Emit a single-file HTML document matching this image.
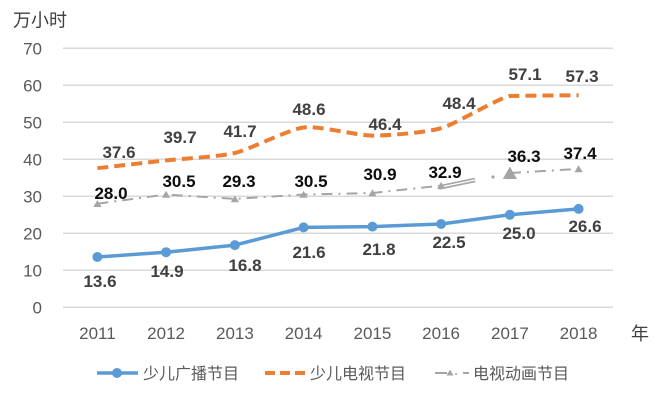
<!DOCTYPE html>
<html><head><meta charset="utf-8"><style>
html,body{margin:0;padding:0;background:#fff;}
svg{display:block;}
text{font-family:"Liberation Sans","Noto Sans CJK SC",sans-serif;}
.tk{font-size:17px;fill:#595959;}
.lb{font-size:17px;font-weight:bold;fill:#404040;text-anchor:middle;}
.lg{font-size:17px;font-weight:bold;fill:#0d0d0d;text-anchor:middle;}
.le{font-size:16px;fill:#595959;}
</style></head><body>
<svg width="670" height="407" viewBox="0 0 670 407" xmlns="http://www.w3.org/2000/svg">
<rect width="670" height="407" fill="#fff"/>
<!-- gridlines -->
<g stroke="#D9D9D9" stroke-width="1.5">
<line x1="63" y1="48.3" x2="613" y2="48.3"/>
<line x1="63" y1="85.3" x2="613" y2="85.3"/>
<line x1="63" y1="122.3" x2="613" y2="122.3"/>
<line x1="63" y1="159.3" x2="613" y2="159.3"/>
<line x1="63" y1="196.3" x2="613" y2="196.3"/>
<line x1="63" y1="233.3" x2="613" y2="233.3"/>
<line x1="63" y1="270.3" x2="613" y2="270.3"/>
<line x1="63" y1="307.3" x2="613" y2="307.3"/>
</g>
<!-- y ticks -->
<g class="tk" text-anchor="end">
<text x="42" y="54.5">70</text>
<text x="42" y="91.5">60</text>
<text x="42" y="128.5">50</text>
<text x="42" y="165.5">40</text>
<text x="42" y="202.5">30</text>
<text x="42" y="239.5">20</text>
<text x="42" y="276.5">10</text>
<text x="42" y="313.5">0</text>
</g>
<text x="13" y="26.5" style="font-size:18px;fill:#404040">万小时</text>
<!-- x labels -->
<g class="tk" text-anchor="middle">
<text x="97.4" y="339">2011</text>
<text x="166.1" y="339">2012</text>
<text x="234.9" y="339">2013</text>
<text x="303.6" y="339">2014</text>
<text x="372.4" y="339">2015</text>
<text x="441.1" y="339">2016</text>
<text x="509.9" y="339">2017</text>
<text x="578.6" y="339">2018</text>
</g>
<text x="631" y="340" style="font-size:18px;fill:#404040">年</text>

<!-- gray series -->
<polyline points="97.4,203.7 166.1,194.5 234.9,198.9 303.6,194.5 372.4,193.0 441.1,185.6" fill="none" stroke="#A5A5A5" stroke-width="2" stroke-dasharray="11 6 2 6"/>
<polyline points="509.9,173.0 578.6,168.9" fill="none" stroke="#A5A5A5" stroke-width="2" stroke-dasharray="11 6 2 6"/>
<line x1="439" y1="187.5" x2="475" y2="180" stroke="#A5A5A5" stroke-width="4.5"/>
<line x1="441" y1="187" x2="475" y2="180" stroke="#fff" stroke-width="1.3"/>
<circle cx="493" cy="177" r="1.6" fill="#A5A5A5"/>
<g fill="#A5A5A5">
<polygon points="97.4,200 101.5,207 93.3,207"/>
<polygon points="166.1,190.8 170.2,197.8 162,197.8"/>
<polygon points="234.9,195.2 239,202.2 230.8,202.2"/>
<polygon points="303.6,190.8 307.7,197.8 299.5,197.8"/>
<polygon points="372.4,189.3 376.5,196.3 368.3,196.3"/>
<polygon points="441.1,181.9 445.2,188.9 437,188.9"/>
<polygon points="509.9,166.5 517,179 502.8,179"/>
<polygon points="578.6,165.2 582.7,172.2 574.5,172.2"/>
</g>

<!-- orange series -->
<path d="M97.4,168.2 C105,167.3 150.8,162.1 166.1,160.4 C181.4,158.7 219.6,156.7 234.9,153 C250.2,149.3 288.3,129.4 303.6,127.5 C318.9,125.6 357.1,135.5 372.4,135.6 C387.7,135.7 425.8,132.6 441.1,128.2 C456.4,123.8 494.6,99.7 509.9,96 C525.2,95.6 571,95.3 578.6,95.3" fill="none" stroke="#ED7D31" stroke-width="4" stroke-dasharray="11 6"/>

<!-- blue series -->
<polyline points="97.4,257 166.1,252.2 234.9,245.1 303.6,227.4 372.4,226.6 441.1,224 509.9,214.8 578.6,208.9" fill="none" stroke="#5B9BD5" stroke-width="3.5" stroke-linejoin="round"/>
<g fill="#5B9BD5">
<circle cx="97.4" cy="257" r="5"/>
<circle cx="166.1" cy="252.2" r="5"/>
<circle cx="234.9" cy="245.1" r="5"/>
<circle cx="303.6" cy="227.4" r="5"/>
<circle cx="372.4" cy="226.6" r="5"/>
<circle cx="441.1" cy="224" r="5"/>
<circle cx="509.9" cy="214.8" r="5"/>
<circle cx="578.6" cy="208.9" r="5"/>
</g>

<!-- orange labels -->
<text class="lb" x="119" y="158">37.6</text>
<text class="lb" x="180" y="143">39.7</text>
<text class="lb" x="240" y="137">41.7</text>
<text class="lb" x="309" y="115">48.6</text>
<text class="lb" x="385" y="130">46.4</text>
<text class="lb" x="459" y="109">48.4</text>
<text class="lb" x="525" y="80">57.1</text>
<text class="lb" x="582" y="82">57.3</text>
<!-- gray labels -->
<text class="lg" x="111" y="199">28.0</text>
<text class="lg" x="179" y="187">30.5</text>
<text class="lg" x="239" y="187">29.3</text>
<text class="lg" x="311" y="187">30.5</text>
<text class="lg" x="380" y="180">30.9</text>
<text class="lg" x="445" y="178">32.9</text>
<text class="lg" x="524" y="162">36.3</text>
<text class="lg" x="580" y="159">37.4</text>
<!-- blue labels -->
<text class="lb" x="100" y="287">13.6</text>
<text class="lb" x="167" y="277">14.9</text>
<text class="lb" x="245" y="271">16.8</text>
<text class="lb" x="309" y="258">21.6</text>
<text class="lb" x="379" y="255">21.8</text>
<text class="lb" x="449" y="248">22.5</text>
<text class="lb" x="519" y="239">25.0</text>
<text class="lb" x="585" y="232">26.6</text>

<!-- legend -->
<line x1="97" y1="373" x2="138" y2="373" stroke="#5B9BD5" stroke-width="3.5"/>
<circle cx="117" cy="373" r="5" fill="#5B9BD5"/>
<text class="le" x="143" y="379">少儿广播节目</text>
<line x1="265" y1="373" x2="305" y2="373" stroke="#ED7D31" stroke-width="4" stroke-dasharray="10 5"/>
<text class="le" x="310" y="379">少儿电视节目</text>
<line x1="435" y1="373" x2="447" y2="373" stroke="#A5A5A5" stroke-width="2"/>
<polygon points="450,369.5 453.5,375.5 446.5,375.5" fill="#A5A5A5"/>
<circle cx="456" cy="374" r="1" fill="#A5A5A5"/>
<line x1="463" y1="373" x2="469" y2="373" stroke="#A5A5A5" stroke-width="2"/>
<text class="le" x="473" y="379">电视动画节目</text>
</svg>
</body></html>
